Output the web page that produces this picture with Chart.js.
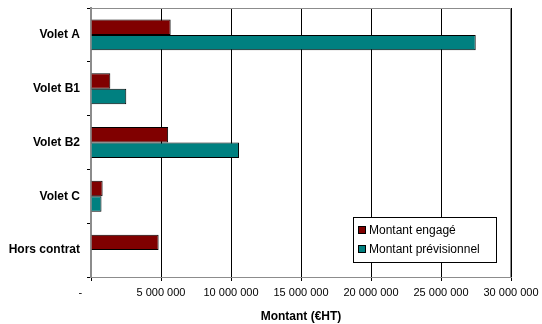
<!DOCTYPE html>
<html>
<head>
<meta charset="utf-8">
<script src="https://cdn.jsdelivr.net/npm/chart.js@4"></script>
<style>
  html, body { margin: 0; padding: 0; background: #fff; }
  #wrap { width: 542px; height: 324px; }
</style>
</head>
<body>
<div id="wrap"><canvas id="c" width="542" height="324"></canvas></div>
<script>
const categories = ['Volet A', 'Volet B1', 'Volet B2', 'Volet C', 'Hors contrat'];
const montantEngage = [5690000, 1380000, 5510000, 830000, 4830000];
const montantPrevisionnel = [27480000, 2520000, 10570000, 750000, null];
const seriesNames = ['Montant engagé', 'Montant prévisionnel'];
const axisTitle = 'Montant (€HT)';

const FONT = '"Liberation Sans", Arial, sans-serif';

function fmt(v) {
  if (v === 0) return '-       ';
  return String(Math.round(v)).replace(/\B(?=(\d{3})+(?!\d))/g, ' ');
}

// Grey frame on top and right of the plot area
const frame = {
  id: 'frame',
  beforeDatasetsDraw(chart) {
    const { ctx, chartArea: a } = chart;
    ctx.save();
    ctx.strokeStyle = '#8c8c8c';
    ctx.lineWidth = 1;
    ctx.beginPath();
    ctx.moveTo(a.left, a.top + 0.5);
    ctx.lineTo(a.right - 0.5, a.top + 0.5);
    ctx.lineTo(a.right - 0.5, a.bottom);
    ctx.stroke();
    ctx.restore();
  }
};

// Boxed legend inside the plot, lower right
const boxLegend = {
  id: 'boxLegend',
  afterDatasetsDraw(chart) {
    const { ctx } = chart;
    const x = 353, y = 217, w = 143, h = 45;
    ctx.save();
    ctx.fillStyle = '#fff';
    ctx.fillRect(x, y, w, h);
    ctx.strokeStyle = '#000';
    ctx.lineWidth = 1;
    ctx.strokeRect(x + 0.5, y + 0.5, w, h);
    ctx.font = '12px ' + FONT;
    ctx.textBaseline = 'middle';
    chart.data.datasets.forEach((ds, i) => {
      const cy = y + 13 + i * 19;
      ctx.fillStyle = ds.backgroundColor;
      ctx.fillRect(x + 5, cy - 3.5, 7, 7);
      ctx.strokeStyle = '#000';
      ctx.strokeRect(x + 5.5, cy - 3.5, 7, 7);
      ctx.fillStyle = '#000';
      ctx.fillText(ds.label, x + 16, cy + 1);
    });
    ctx.restore();
  }
};

new Chart(document.getElementById('c'), {
  type: 'bar',
  data: {
    labels: categories,
    datasets: [
      { label: seriesNames[0], data: montantEngage, backgroundColor: '#800000', borderColor: '#000', borderWidth: 1 },
      { label: seriesNames[1], data: montantPrevisionnel, backgroundColor: '#008080', borderColor: '#000', borderWidth: 1 }
    ]
  },
  options: {
    indexAxis: 'y',
    responsive: false,
    animation: false,
    categoryPercentage: 0.575,
    barPercentage: 1,
    layout: { padding: { top: 8, right: 31, left: 0, bottom: 0 } },
    plugins: { legend: { display: false }, tooltip: { enabled: false } },
    scales: {
      x: {
        min: 0, max: 30000000,
        ticks: { stepSize: 5000000, callback: v => fmt(v), color: '#000', font: { family: FONT, size: 11 }, padding: 5, maxRotation: 0 },
        grid: { color: '#000', lineWidth: 1, tickLength: 4, tickColor: '#000' },
        border: { color: '#8c8c8c', width: 1 },
        title: { display: true, text: axisTitle, color: '#000', font: { family: FONT, size: 12, weight: 'bold' }, padding: { top: 8, bottom: 0 } },
        afterFit(s) { s.height = 47; s.paddingLeft = 0; s.paddingRight = 0; }
      },
      y: {
        ticks: { color: '#000', font: { family: FONT, size: 12, weight: 'bold' }, padding: 7 },
        grid: { drawOnChartArea: false, offset: true, tickLength: 4, tickColor: '#000' },
        border: { color: '#8c8c8c', width: 2 },
        afterFit(s) { s.width = 91; s.paddingTop = 0; s.paddingBottom = 0; }
      }
    }
  },
  plugins: [frame, boxLegend]
});
</script>
</body>
</html>
